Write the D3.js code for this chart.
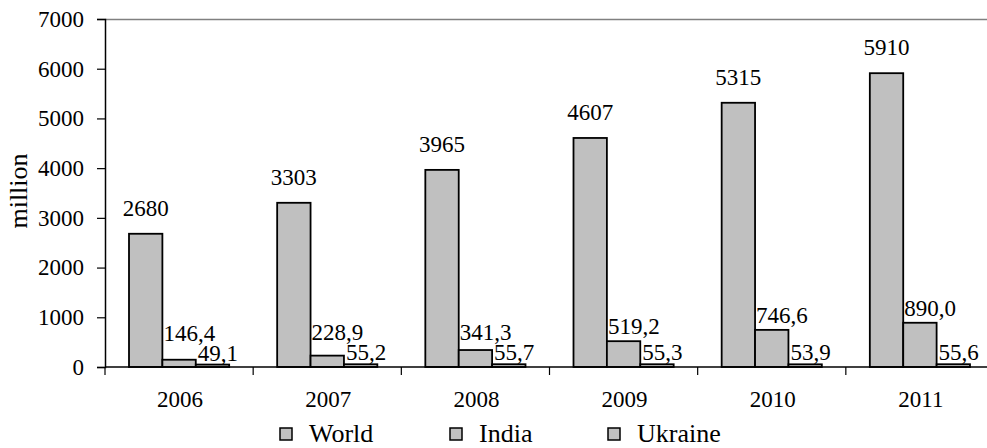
<!DOCTYPE html>
<html>
<head>
<meta charset="utf-8">
<script src="https://cdn.jsdelivr.net/npm/d3@7"></script>
</head>
<body style="margin:0;background:#fff">
<svg id="chart" width="987" height="448" style="display:block" font-family="Liberation Serif"></svg>
<script>
// Mobile subscriptions, millions
const years = ["2006", "2007", "2008", "2009", "2010", "2011"];
const seriesNames = ["World", "India", "Ukraine"];
const world = [2680, 3303, 3965, 4607, 5315, 5910];
const india = [146.4, 228.9, 341.3, 519.2, 746.6, 890.0];
const ukraine = [49.1, 55.2, 55.7, 55.3, 53.9, 55.6];
const yTicks = [0, 1000, 2000, 3000, 4000, 5000, 6000, 7000];

(function () {
const FONT = "Liberation Serif";
const seriesValues = [world, india, ukraine];

const svg = d3.select("#chart");
const W = 987;
const plotLeft = 105, plotTop = 19, plotBottom = 367, plotRight = 994;

const x = d3.scaleBand().domain(years).range([plotLeft, plotRight]).paddingInner(0).paddingOuter(0);
const inner = d3.scaleBand().domain(seriesNames).range([24, x.bandwidth() - 24]).padding(0);
const y = d3.scaleLinear().domain([0, 7000]).range([plotBottom, plotTop]);

const fmtWorld = d3.format("d");
const fmtDec = v => d3.format(".1f")(v).replace(".", ",");

// top border of the plot area
svg.append("line")
  .attr("x1", plotLeft).attr("x2", W)
  .attr("y1", plotTop + 0.5).attr("y2", plotTop + 0.5)
  .attr("stroke", "#808080").attr("stroke-width", 1.5);

// bars
seriesNames.forEach((name, si) => {
  const vals = seriesValues[si];
  svg.append("g").selectAll("rect")
    .data(years.map((yr, i) => ({ yr, v: vals[i] })))
    .join("rect")
    .attr("x", d => x(d.yr) + inner(name))
    .attr("y", d => y(d.v))
    .attr("width", inner.bandwidth())
    .attr("height", d => plotBottom - y(d.v))
    .attr("fill", "#c0c0c0")
    .attr("stroke", "#000")
    .attr("stroke-width", 1.8);
});

// y axis
const yAxis = svg.append("g")
  .attr("transform", `translate(${plotLeft},0)`)
  .call(d3.axisLeft(y).tickValues(yTicks).tickSize(8).tickPadding(13).tickFormat(d3.format("d")));
yAxis.attr("font-size", 23).attr("font-family", FONT);
yAxis.select(".domain").attr("stroke", "#000").attr("stroke-width", 1.5);
yAxis.selectAll(".tick line").attr("stroke", "#000").attr("stroke-width", 1.2);
yAxis.selectAll(".tick text").attr("fill", "#000");

// x axis: baseline with ticks at category boundaries
svg.append("line")
  .attr("x1", plotLeft).attr("x2", W)
  .attr("y1", plotBottom).attr("y2", plotBottom)
  .attr("stroke", "#000").attr("stroke-width", 1.5);
const boundaries = years.map(yr => x(yr)).concat([x(years[years.length - 1]) + x.bandwidth()]);
svg.append("g").selectAll("line")
  .data(boundaries)
  .join("line")
  .attr("x1", d => d).attr("x2", d => d)
  .attr("y1", plotBottom).attr("y2", plotBottom + 8)
  .attr("stroke", "#000").attr("stroke-width", 1.2);
svg.append("g").selectAll("text")
  .data(years)
  .join("text")
  .attr("x", d => x(d) + x.bandwidth() / 2 + 1)
  .attr("y", 407)
  .attr("text-anchor", "middle")
  .attr("font-size", 23)
  .text(d => d);

// value labels
svg.append("g").selectAll("text")
  .data(years.map((yr, i) => ({ yr, v: world[i] })))
  .join("text")
  .attr("x", d => x(d.yr) + inner("World") + inner.bandwidth() / 2)
  .attr("y", d => y(d.v) - 18)
  .attr("text-anchor", "middle")
  .attr("font-size", 23)
  .text(d => fmtWorld(d.v));

// Ukraine labels sit just above their short bars; India labels are lifted
// clear of them where the two would collide
const ukraineBase = v => y(v) - 4;
svg.append("g").selectAll("text")
  .data(years.map((yr, i) => ({ yr, v: ukraine[i] })))
  .join("text")
  .attr("x", d => x(d.yr) + inner("Ukraine") + 2)
  .attr("y", d => ukraineBase(d.v))
  .attr("font-size", 23)
  .text(d => fmtDec(d.v));

svg.append("g").selectAll("text")
  .data(years.map((yr, i) => ({ yr, v: india[i], u: ukraine[i] })))
  .join("text")
  .attr("x", d => x(d.yr) + inner("India") + 1)
  .attr("y", d => Math.min(y(d.v) - 7, ukraineBase(d.u) - 20))
  .attr("font-size", 23)
  .text(d => fmtDec(d.v));

// y axis title
svg.append("text")
  .attr("transform", "translate(27,191) rotate(-90)")
  .attr("text-anchor", "middle")
  .attr("font-size", 26)
  .text("million");

// legend
const legendX = [280, 450, 608];
const legend = svg.append("g").selectAll("g")
  .data(seriesNames)
  .join("g")
  .attr("transform", (d, i) => `translate(${legendX[i]},428)`);
legend.append("rect")
  .attr("width", 12).attr("height", 12)
  .attr("fill", "#c0c0c0").attr("stroke", "#000").attr("stroke-width", 1.5);
legend.append("text")
  .attr("x", 29).attr("y", 14)
  .attr("font-size", 26)
  .text(d => d);

// serif face for every label
svg.selectAll("text")
  .attr("font-family", FONT)
  .style("font-family", `"${FONT}"`)
  .attr("fill", "#000");
})();
</script>
</body>
</html>
